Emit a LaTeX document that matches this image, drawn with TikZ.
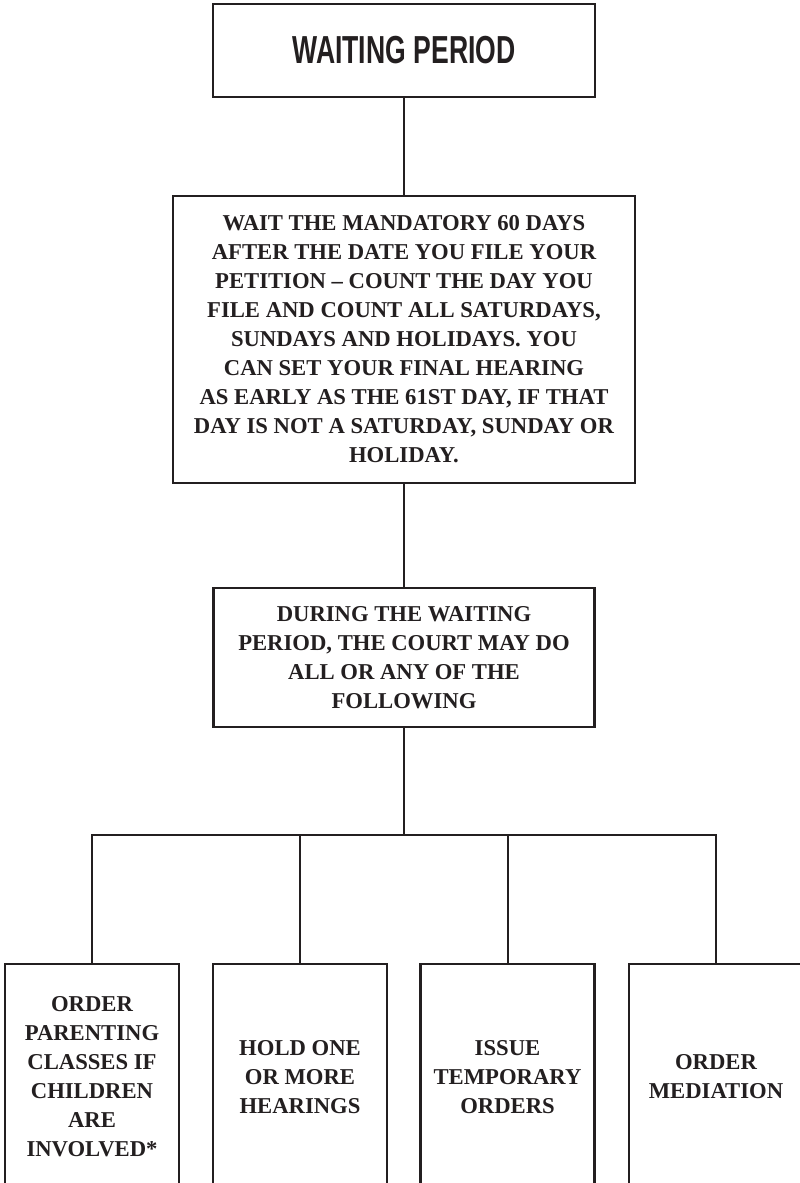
\documentclass[tikz,border=0pt]{standalone}
\usepackage{fontspec}
\usepackage{graphicx}
\setmainfont{Liberation Serif}
\newfontfamily\titlefont{Liberation Sans}
\definecolor{ink}{RGB}{35,31,32}
\begin{document}
\begin{tikzpicture}[x=0.75pt,y=-0.75pt,
  box/.style={draw=ink, line width=2.2pt, rectangle, align=center, inner sep=0pt,
    font=\bfseries\fontsize{17}{21.75}\selectfont, text=ink},
  childbox/.style={box, minimum width=130.5pt, minimum height=169.5pt},
  conn/.style={draw=ink, line width=1.5pt}]
\useasboundingbox[fill=white] (0,0) rectangle (800,1183);
\node[box, minimum width=286.5pt, minimum height=69.75pt] (top) at (404,50.5)
  {\scalebox{0.68}[1]{\titlefont\bfseries\fontsize{29.3}{30}\selectfont WAITING PERIOD}};
\node[box, minimum width=346.5pt, minimum height=215.25pt] (wait) at (404,339.5)
  {WAIT THE MANDATORY 60 DAYS\\
   AFTER THE DATE YOU FILE YOUR\\
   PETITION – COUNT THE DAY YOU\\
   FILE AND COUNT ALL SATURDAYS,\\
   SUNDAYS AND HOLIDAYS. YOU\\
   CAN SET YOUR FINAL HEARING\\
   AS EARLY AS THE 61ST DAY, IF THAT\\
   DAY IS NOT A SATURDAY, SUNDAY OR\\
   HOLIDAY.};
\node[box, minimum width=285.75pt, minimum height=104.25pt] (during) at (404,657.5)
  {DURING THE WAITING\\
   PERIOD, THE COURT MAY DO\\
   ALL OR ANY OF THE\\
   FOLLOWING};
\node[childbox] (c1) at (92,1077) {ORDER\\PARENTING\\CLASSES IF\\CHILDREN\\ARE\\INVOLVED*};
\node[childbox] (c2) at (300,1077) {HOLD ONE\\OR MORE\\HEARINGS};
\node[childbox] (c3) at (507.5,1077) {ISSUE\\TEMPORARY\\ORDERS};
\node[childbox] (c4) at (716,1077) {ORDER\\MEDIATION};
\coordinate (busy) at (404,835);
\draw[conn] (top.south) -- (wait.north);
\draw[conn] (wait.south) -- (during.north);
\draw[conn] (during.south) -- (during.south |- busy);
\draw[conn] (c1.north) -- (c1.north |- busy) -- (c4.north |- busy) -- (c4.north);
\draw[conn] (c2.north) -- (c2.north |- busy);
\draw[conn] (c3.north) -- (c3.north |- busy);
\end{tikzpicture}
\end{document}
